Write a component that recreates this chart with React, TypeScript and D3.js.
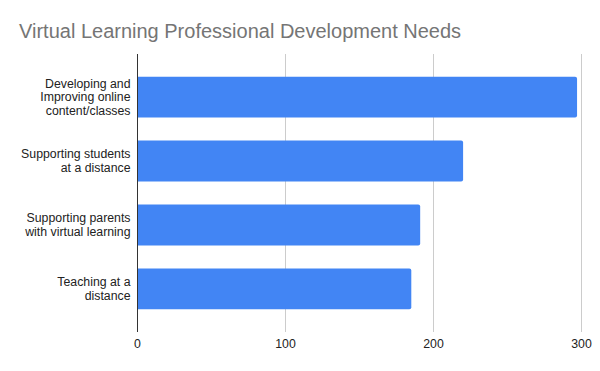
import React from "react";
import * as d3 from "d3";

const categories = [
  "Developing and Improving online content/classes",
  "Supporting students at a distance",
  "Supporting parents with virtual learning",
  "Teaching at a distance",
];
const categoryLines = [
  ["Developing and", "Improving online", "content/classes"],
  ["Supporting students", "at a distance"],
  ["Supporting parents", "with virtual learning"],
  ["Teaching at a", "distance"],
];
const values = [297, 220, 191, 185];
const xTicks = [0, 100, 200, 300];
const title = "Virtual Learning Professional Development Needs";

const W = 600;
const H = 371;
const FONT = "'Liberation Sans', Arial, sans-serif";

export default function App() {
  const x = d3.scaleLinear().domain([0, 300]).range([137.5, 581.5]);
  const y = d3
    .scaleBand<string>()
    .domain(categories)
    .range([54, 332])
    .paddingInner(0.36)
    .paddingOuter(0.355);
  const lineH = 13.8;
  const r = 2;

  const barPath = (v: number, cat: string) => {
    const x0 = x(0);
    const x1 = x(v);
    const y0 = y(cat)!;
    const h = y.bandwidth();
    const p = d3.path();
    p.moveTo(x0, y0);
    p.lineTo(x1 - r, y0);
    p.quadraticCurveTo(x1, y0, x1, y0 + r);
    p.lineTo(x1, y0 + h - r);
    p.quadraticCurveTo(x1, y0 + h, x1 - r, y0 + h);
    p.lineTo(x0, y0 + h);
    p.closePath();
    return p.toString();
  };

  return (
    <svg
      width={W}
      height={H}
      style={{ position: "absolute", left: 0, top: 0, background: "#fff" }}
      fontFamily={FONT}
    >
      <rect width={W} height={H} fill="#fff" />
      <text x={19} y={37.5} fontSize={20} fill="#757575">
        {title}
      </text>
      {xTicks.map((t) =>
        t === 0 ? null : (
          <line key={t} x1={x(t)} x2={x(t)} y1={54} y2={332} stroke="#cccccc" strokeWidth={1} />
        )
      )}
      {categories.map((c, i) => (
        <path key={c} d={barPath(values[i], c)} fill="#4285f4" />
      ))}
      <line x1={x(0)} x2={x(0)} y1={54} y2={332} stroke="#333333" strokeWidth={1} />
      {xTicks.map((t) => (
        <text key={t} x={x(t)} y={348} fontSize={12.3} fill="#222" textAnchor="middle">
          {t}
        </text>
      ))}
      {categories.map((c, i) => {
        const lines = categoryLines[i];
        const cy = y(c)! + y.bandwidth() / 2;
        const startY = cy - ((lines.length - 1) * lineH) / 2;
        return (
          <text key={c} fontSize={12.3} fill="#222" textAnchor="end">
            {lines.map((l, j) => (
              <tspan key={j} x={130.5} y={startY + j * lineH + 4.3}>
                {l}
              </tspan>
            ))}
          </text>
        );
      })}
    </svg>
  );
}
